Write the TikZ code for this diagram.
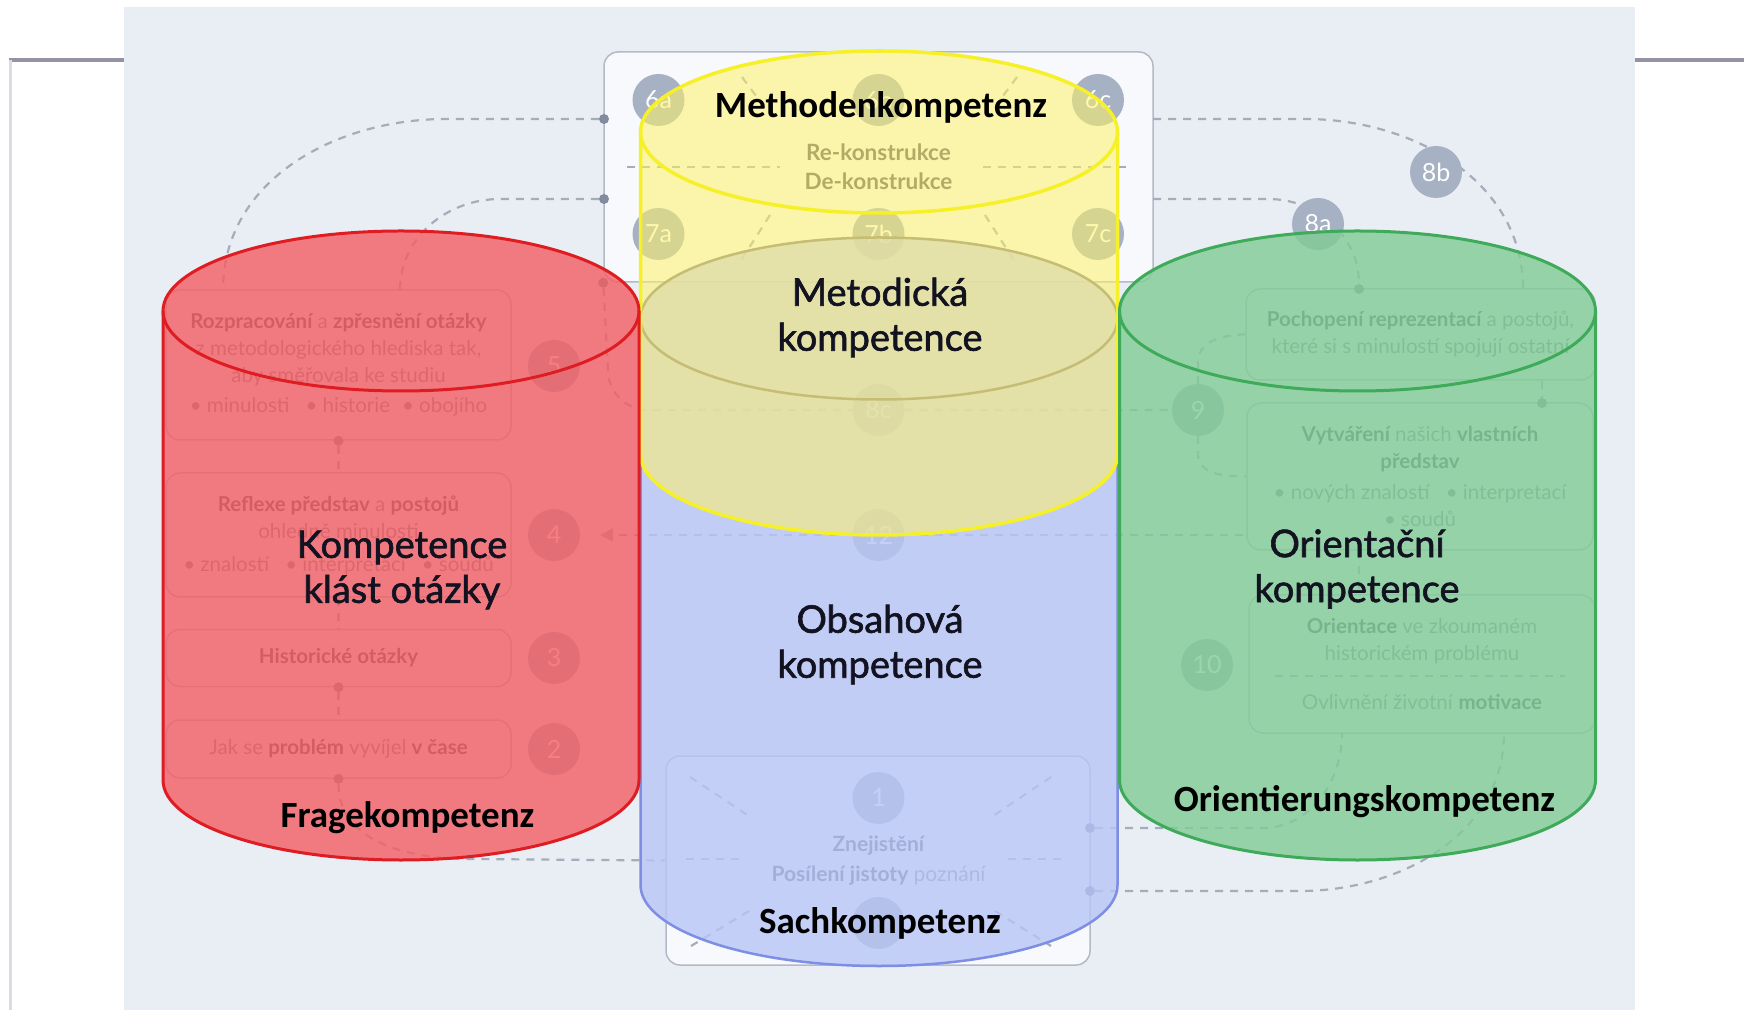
\documentclass[tikz,border=0pt]{standalone}
\usepackage{fontspec}
\setmainfont{Lato}
\newfontfamily\carlito{Carlito}
\newfontfamily\latoheavy[FakeBold=1.6]{Lato}
\usetikzlibrary{arrows.meta}

\definecolor{panel}{RGB}{233,238,245}
\definecolor{boxfill}{RGB}{247,249,252}
\definecolor{boxline}{RGB}{178,186,200}
\definecolor{barcol}{RGB}{150,145,165}
\definecolor{edgecol}{RGB}{220,218,226}
\definecolor{dashcol}{RGB}{165,172,186}
\definecolor{dotcol}{RGB}{130,140,158}
\definecolor{numfill}{RGB}{166,177,195}
\definecolor{txtbold}{RGB}{80,88,102}
\definecolor{txtnorm}{RGB}{130,138,152}
\definecolor{redfill}{RGB}{244,94,99}
\definecolor{redline}{RGB}{222,28,34}
\definecolor{yelfill}{RGB}{255,242,105}
\definecolor{yelline}{RGB}{246,240,40}
\definecolor{grnfill}{RGB}{129,204,149}
\definecolor{grnline}{RGB}{62,170,90}
\definecolor{blufill}{RGB}{184,197,246}
\definecolor{bluline}{RGB}{125,142,228}
\definecolor{grayline}{RGB}{125,125,128}
\definecolor{labelcol}{RGB}{18,18,32}

\newcommand{\kw}[1]{\textbf{\color{txtbold}#1}}

\pgfdeclarelayer{paper}
\pgfdeclarelayer{lines}
\pgfsetlayers{paper,lines,main}

\begin{document}
\begin{tikzpicture}[x=1pt,y=1pt,
  num/.style={circle,fill=numfill,text=white,minimum size=52pt,inner sep=0pt,font=\fontsize{25}{25}\selectfont},
  dot/.style={circle,fill=dotcol,minimum size=10pt,inner sep=0pt},
  conn/.style={draw=dashcol,line width=2.2pt,dash pattern=on 8pt off 7pt},
  infobox/.style={draw=boxline,line width=1.5pt,rounded corners=14pt,align=center,text=txtnorm,font=\fontsize{20.5}{27}\selectfont,minimum width=345pt},
  bigbox/.style={draw=boxline,fill=boxfill,line width=1.5pt,rounded corners=14pt},
  title/.style={align=center,text=labelcol,font=\latoheavy\fontsize{38}{45}\selectfont},
  german/.style={text=black,font=\carlito\bfseries\fontsize{37}{37}\selectfont}]
\useasboundingbox (0,0) rectangle (1744,1010);

\begin{pgfonlayer}{paper}
% Page and panel
\fill[white] (0,0) rectangle (1744,1010);
\fill[panel] (124,0) rectangle (1635,1003);
\draw[barcol,line width=4pt] (9,950) -- (124,950) (1635,950) -- (1744,950);
\draw[edgecol,line width=3pt] (10,950) -- (10,0);
% Middle boxes
\node[bigbox,minimum width=549pt,minimum height=230pt,align=center,text=txtnorm,font=\fontsize{22.5}{29}\selectfont] (box_m) at (878.5,843) {\kw{Re-konstrukce}\\\kw{De-konstrukce}};
\node[bigbox,minimum width=424pt,minimum height=209pt] (box_s) at (878,149.5) {};
\end{pgfonlayer}

% Boxes left
\node[infobox,minimum height=150pt] (box_5) at (338.5,645) {\kw{Rozpracování} a \kw{zpřesnění otázky}\\z metodologického hlediska tak,\\aby směřovala ke studiu\\[3pt]\textbullet\ minulosti\hspace{16pt}\textbullet\ historie\hspace{12pt}\textbullet\ obojího};
\node[infobox,minimum height=124pt] (box_4) at (338.5,475) {\kw{Reflexe představ} a \kw{postojů}\\ohledně minulosti\\[6pt]\textbullet\ znalostí\hspace{16pt}\textbullet\ interpretací\hspace{16pt}\textbullet\ soudů};
\node[infobox,minimum height=57pt] (box_3) at (338.5,352) {\kw{Historické otázky}};
\node[infobox,minimum height=58pt] (box_2) at (338.5,261) {Jak se \kw{problém} vyvíjel \kw{v čase}};
% Boxes right
\node[infobox,minimum width=349pt,minimum height=91pt] (box_8) at (1420.5,675.5) {\kw{Pochopení reprezentací} a postojů,\\které si s minulostí spojují ostatní};
\node[infobox,minimum width=346pt,minimum height=147pt] (box_9) at (1420,533.5) {\kw{Vytváření} našich \kw{vlastních}\\\kw{představ}\\[4pt]\textbullet\ nových znalostí\hspace{16pt}\textbullet\ interpretací\\\textbullet\ soudů};
\node[infobox,minimum width=346pt,minimum height=138pt] (box_10) at (1422,346) {\kw{Orientace} ve zkoumaném\\historickém problému\\[22pt]Ovlivnění životní \kw{motivace}};
% Text of bottom box
\node[align=center,text=txtnorm,font=\fontsize{21}{30}\selectfont] (txt_s) at (878.5,149) {\kw{Znejistění}\\\kw{Posílení jistoty} poznání};

% Numbers
\node[num] (num_6a) at (658.5,910) {6a};
\node[num] (num_6b) at (878.5,910) {6b};
\node[num] (num_6c) at (1098,910) {6c};
\node[num] (num_7a) at (658.5,776) {7a};
\node[num] (num_7b) at (878.5,776) {7b};
\node[num] (num_7c) at (1098,776) {7c};
\node[num] (num_8a) at (1318,786) {8a};
\node[num] (num_8b) at (1436,838) {8b};
\node[num] (num_8c) at (878.5,600) {8c};
\node[num] (num_9) at (1198,600) {9};
\node[num] (num_10) at (1207,345) {10};
\node[num] (num_12) at (878.5,475) {12};
\node[num] (num_5) at (554,644) {5};
\node[num] (num_4) at (554,475) {4};
\node[num] (num_3) at (554,352) {3};
\node[num] (num_2) at (554,261) {2};
\node[num] (num_1) at (878.5,212) {1};
\node[num] (num_s) at (878.5,87) {};

% Dots
\node[dot] (d_a) at (604,891) {};
\node[dot] (d_b) at (604,811) {};
\node[dot] (d_e) at (box_m.south west) {};
\node[dot] (d_5) at (box_5.south) {};
\node[dot] (d_3) at (box_3.south) {};
\node[dot] (d_2) at (box_2.south) {};
\node[dot] (d_8) at (1359,721) {};
\node[dot] (d_89) at (1542,607) {};
\node[dot] (d_r1) at (1090,182) {};
\node[dot] (d_r2) at (1090,119) {};

% Connectors
\coordinate (end_a) at (223,720);
\coordinate (end_b) at (400,720);
\coordinate (start_c) at (1153,891);
\coordinate (end_c) at (1523,721);
\coordinate (start_d) at (1153,811);
\coordinate (tip_4) at (600,475);
\coordinate (end_i) at (1247,475);
\coordinate (end_l) at (1342,277);
\coordinate (end_m) at (1504,277);
\begin{pgfonlayer}{lines}
\draw[conn] (d_a) -- (446,891) to[out=180,in=90] (end_a);
\draw[conn] (d_b) -- (500,811) to[out=180,in=90] (end_b);
\draw[conn] (start_c) -- (1305,891) to[out=0,in=90] (end_c);
\draw[conn] (start_d) -- (1268,811) to[out=0,in=90] (d_8);
\draw[conn] (d_e) -- (608,640) to[out=-90,in=180] (648,600) -- (num_8c) -- (num_9);
\draw[conn] (num_9) -- (1198,648) to[out=90,in=180] (box_8.west);
\draw[conn] (num_9) -- (1198,556) to[out=-90,in=180] (box_9.west);
\draw[conn,-{Triangle[length=13pt,width=13pt]}] (num_12) -- (tip_4);
\draw[conn] (num_12) -- (end_i);
\draw[conn] (d_2) to[out=-90,in=180] (470,151) -- (box_s.west);
\draw[conn] (d_r1) -- (1262,182) to[out=0,in=-90] (end_l);
\draw[conn] (d_r2) -- (1300,119) to[out=0,in=-90] (end_m);
\draw[conn] (d_5) -- (box_4.north);
\draw[conn] (box_4.south) -- (box_3.north);
\draw[conn] (d_3) -- (box_2.north);
\draw[conn] (box_8.south -| d_89) -- (d_89);
\draw[conn] (box_9.south -| d_8) -- (box_10.north -| d_8);
% Dashes inside the boxes
\draw[conn] (627,843) -- (780,843) (983,843) -- (1132,843);
\draw[conn] (742,933) -- (759,910) (1017,933) -- (1000,910);
\draw[conn] (770,795) -- (740,748) (985,795) -- (1015,748);
\draw[conn] (686,151) -- (739,151) (1008,151) -- (1064,151);
\draw[conn] (690,233) -- (749,194) (1051,233) -- (993,194);
\draw[conn] (749,99) -- (691,64) (995,99) -- (1051,64);
\draw[conn] (1275,334) -- (1565,334);
\end{pgfonlayer}

% Blue cylinder
\fill[blufill,fill opacity=0.8] (640.5,691.5) -- (640.5,125) arc[start angle=180,end angle=360,x radius=238.5,y radius=81] -- (1117.5,691.5) arc[start angle=0,end angle=180,x radius=238.5,y radius=81] -- cycle;
\draw[bluline,line width=2.5pt] (640.5,691.5) -- (640.5,125) arc[start angle=180,end angle=360,x radius=238.5,y radius=81] -- (1117.5,691.5);
\draw[grayline,line width=2.5pt] (879,691.5) ellipse[x radius=238.5,y radius=81];
% Yellow cylinder
\fill[yelfill,fill opacity=0.55] (640.5,878) -- (640.5,556) arc[start angle=180,end angle=360,x radius=238.5,y radius=81] -- (1117.5,878) arc[start angle=0,end angle=180,x radius=238.5,y radius=81] -- cycle;
\draw[yelline,line width=3.5pt] (640.5,878) -- (640.5,556) arc[start angle=180,end angle=360,x radius=238.5,y radius=81] -- (1117.5,878);
\draw[yelline,line width=3.5pt] (879,878) ellipse[x radius=238.5,y radius=81];
% Red cylinder
\fill[redfill,fill opacity=0.8] (163,699) -- (163,230) arc[start angle=180,end angle=360,x radius=238,y radius=80] -- (639,699) arc[start angle=0,end angle=180,x radius=238,y radius=80] -- cycle;
\draw[redline,line width=3pt] (163,699) -- (163,230) arc[start angle=180,end angle=360,x radius=238,y radius=80] -- (639,699);
\draw[redline,line width=3pt] (401,699) ellipse[x radius=238,y radius=80];
% Green cylinder
\fill[grnfill,fill opacity=0.8] (1119.5,699) -- (1119.5,230) arc[start angle=180,end angle=360,x radius=238,y radius=80] -- (1595.5,699) arc[start angle=0,end angle=180,x radius=238,y radius=80] -- cycle;
\draw[grnline,line width=3pt] (1119.5,699) -- (1119.5,230) arc[start angle=180,end angle=360,x radius=238,y radius=80] -- (1595.5,699);
\draw[grnline,line width=3pt] (1357.5,699) ellipse[x radius=238,y radius=80];

% Labels
\node[german] (lbl_methoden) at (881,903) {Methodenkompetenz};
\node[title] (lbl_metod) at (880,692.5) {Metodická\\kompetence};
\node[title] (lbl_klast) at (402,440) {Kompetence\\klást otázky};
\node[title] (lbl_obsah) at (880,365.5) {Obsahová\\kompetence};
\node[title] (lbl_orient) at (1357,441) {Orientační\\kompetence};
\node[german] (lbl_frage) at (407.5,192) {Fragekompetenz};
\node[german] (lbl_sach) at (880,87) {Sachkompetenz};
\node[german] (lbl_orientk) at (1364.5,208) {Orientierungskompetenz};
\end{tikzpicture}
\end{document}
